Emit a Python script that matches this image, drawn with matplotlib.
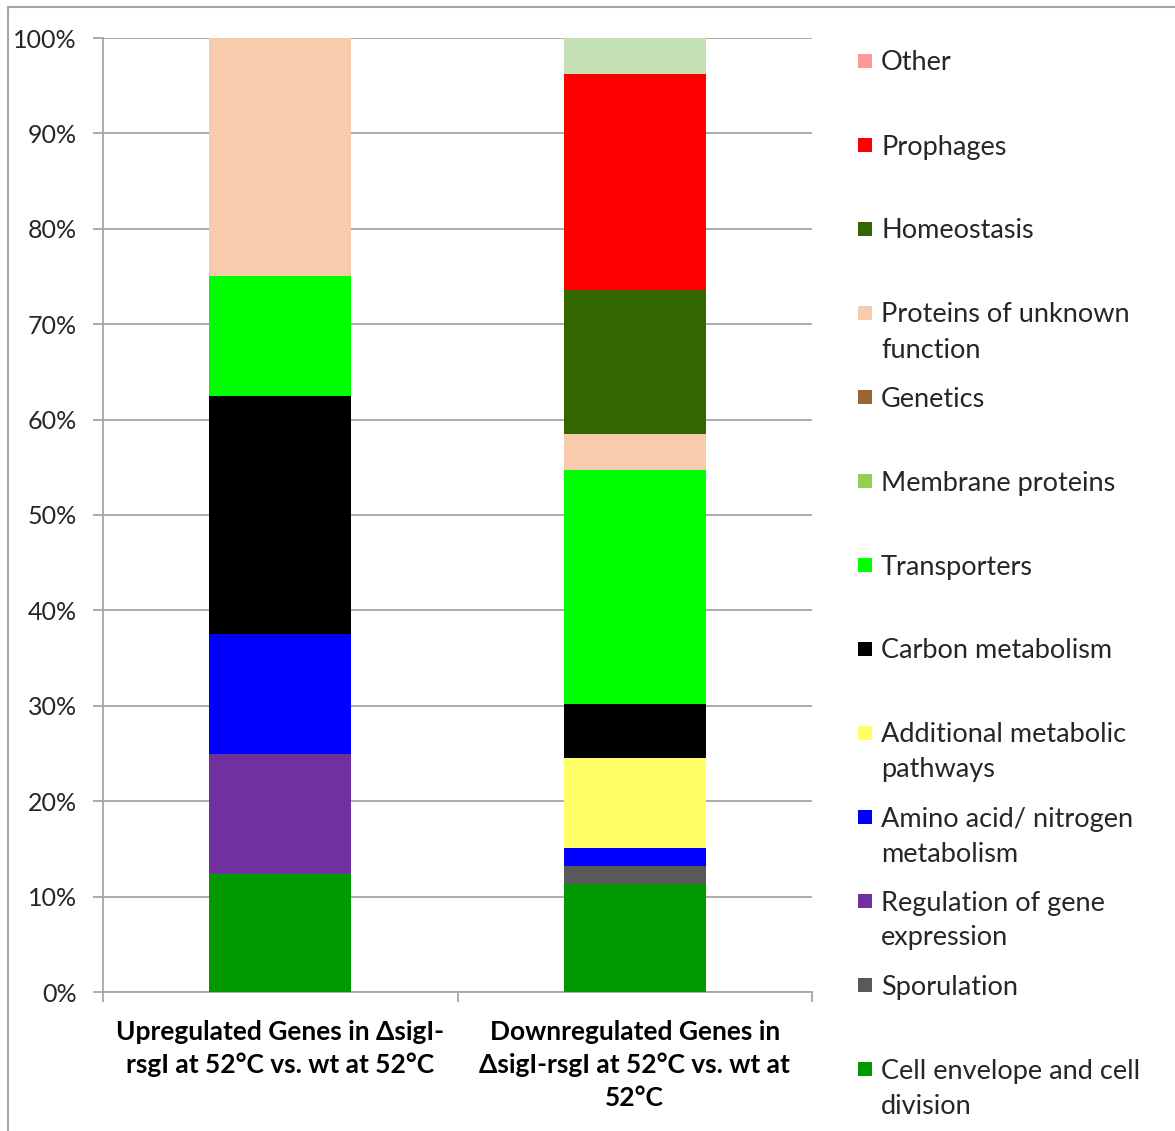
import matplotlib
matplotlib.use("Agg")
import matplotlib.pyplot as plt
import numpy as np
from matplotlib.lines import Line2D
from matplotlib.patches import Rectangle

plt.rcParams['font.family'] = ['Lato', 'DejaVu Sans']

# gene counts per functional category, stacked bottom to top
groups = ["Upregulated Genes in \u0394sigI-\nrsgI at 52\u00b0C vs. wt at 52\u00b0C",
          "Downregulated Genes in\n\u0394sigI-rsgI at 52\u00b0C vs. wt at\n52\u00b0C"]
categories = ["Cell envelope and cell\ndivision", "Sporulation", "Regulation of gene\nexpression",
              "Amino acid/ nitrogen\nmetabolism", "Additional metabolic\npathways", "Carbon metabolism",
              "Transporters", "Membrane proteins", "Genetics", "Proteins of unknown\nfunction",
              "Homeostasis", "Prophages", "Other", "Unassigned"]
colors = ["#009900", "#595959", "#7030a0", "#0000ff", "#ffff66", "#000000", "#00ff00",
          "#92d050", "#996633", "#f8cbad", "#336600", "#ff0000", "#ff9999", "#c5e0b4"]
up_counts = [1, 0, 1, 1, 0, 2, 1, 0, 0, 2, 0, 0, 0, 0]
down_counts = [6, 1, 0, 1, 5, 3, 13, 0, 0, 2, 8, 12, 0, 2]
in_legend = [True] * 13 + [False]

counts = np.array([up_counts, down_counts], dtype=float)
pct = counts / counts.sum(axis=1, keepdims=True) * 100

W, H = 1175, 1131
fig = plt.figure(figsize=(W / 100, H / 100), dpi=100)
ax = fig.add_axes([103 / W, 1 - 992 / H, 709 / W, 954 / H])

x = np.arange(len(groups))
bottom = np.zeros(len(groups))
for i, c in enumerate(categories):
    ax.bar(x, pct[:, i], 0.4, bottom=bottom, color=colors[i], linewidth=0, zorder=3)
    bottom += pct[:, i]

grid_c = "#a6a6a6"
ax.set_xlim(-0.5, 1.5)
ax.set_ylim(0, 100)
ax.set_yticks(np.arange(0, 101, 10))
ax.set_yticklabels([f"{v}%" for v in range(0, 101, 10)])
ax.yaxis.grid(True, color=grid_c, linewidth=1.3, zorder=0)
ax.set_xticks([-0.5, 0.5, 1.5])
ax.set_xticklabels([])
ax.set_xticks(x, minor=True)
ax.set_xticklabels(groups, minor=True, fontweight='bold', fontsize=19, linespacing=1.44)
ax.tick_params(axis='x', which='minor', length=0, pad=20)
ax.tick_params(axis='x', which='major', length=7, width=1.3, color=grid_c)
ax.tick_params(axis='y', length=7, width=1.3, color=grid_c, labelsize=18, pad=12, labelcolor="#262626")
for s in ['top', 'right']:
    ax.spines[s].set_visible(False)
for s in ['left', 'bottom']:
    ax.spines[s].set_color(grid_c)
    ax.spines[s].set_linewidth(1.3)

# legend, top entry first
y0 = 61
step = 84
row = 0
for i in range(len(categories) - 1, -1, -1):
    if not in_legend[i]:
        continue
    yc = y0 + row * step
    fig.add_artist(Rectangle((858 / W, 1 - (yc + 7) / H), 14 / W, 14 / H,
                             facecolor=colors[i], edgecolor='none', transform=fig.transFigure))
    for j, line in enumerate(categories[i].split("\n")):
        fig.text(881 / W, 1 - (yc + 2 + j * 35) / H, line, fontsize=19.5, va='center', ha='left',
                 color="#262626")
    row += 1

# outer frame
fig.add_artist(Line2D([8 / W, 1], [1 - 7 / H, 1 - 7 / H], color="#a6a6a6", linewidth=1.5,
                      transform=fig.transFigure))
fig.add_artist(Line2D([8 / W, 8 / W], [0, 1 - 7 / H], color="#a6a6a6", linewidth=1.5,
                      transform=fig.transFigure))

fig.savefig("out.png", dpi=100)
